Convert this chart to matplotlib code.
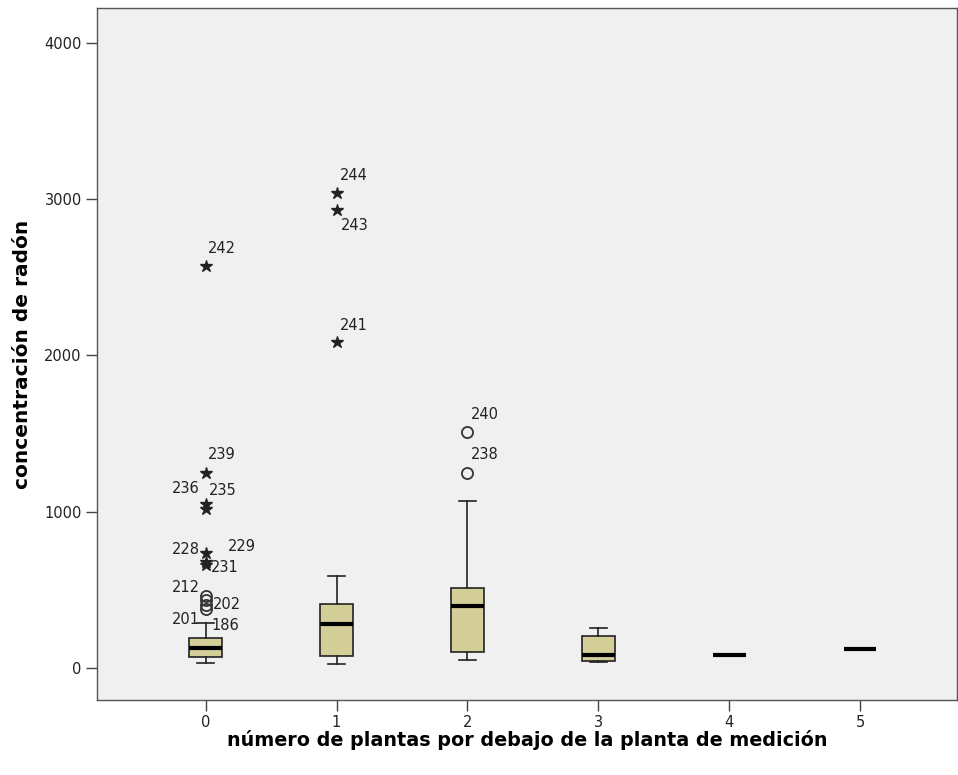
import matplotlib
matplotlib.use("Agg")
import matplotlib.pyplot as plt

plt.rcParams['font.family'] = ['DejaVu Sans']

# box statistics per group (numero de plantas por debajo)
groups = [0, 1, 2, 3, 4, 5]
q1 = [70, 77, 102, 45, 83, 122]
med = [128, 282, 397, 83, 83, 122]
q3 = [192, 410, 512, 205, 83, 122]
whislo = [32, 26, 51, 38, 83, 122]
whishi = [288, 589, 1069, 256, 83, 122]

# outliers: group, value, kind, case label
out_group = [0, 0, 0, 0, 0, 0, 0, 0, 0, 0, 0, 1, 1, 1, 2, 2]
out_value = [2573, 1248, 1050, 1020, 736, 680, 660, 460, 435, 400, 380, 3040, 2931, 2086, 1510, 1248]
out_kind = ['*', '*', '*', '*', '*', '*', '*', 'o', 'o', 'o', 'o', '*', '*', '*', 'o', 'o']
out_label = ['242', '239', '236', '235', '228', '229', '231', '212', '202', '201', '186',
             '244', '243', '241', '240', '238']
# label offsets in pixels (dx, dy, ha)
lab_off = [(2, 17, 'left'), (2, 18, 'left'), (-6, 15, 'right'), (3, 18, 'left'),
           (-6, 3, 'right'), (22, 15, 'left'), (5, -3, 'left'), (-6, 9, 'right'),
           (7, -4, 'left'), (-6, -14, 'right'), (6, -17, 'left'),
           (3, 17, 'left'), (4, -15, 'left'), (3, 17, 'left'), (3, 18, 'left'), (3, 18, 'left')]

fig = plt.figure(figsize=(9.58, 7.75), dpi=100)
ax = fig.add_axes([97/958, 75/775, 860/958, 692/775])
ax.set_facecolor('#f0f0f0')

stats = []
for i in range(len(groups)):
    stats.append(dict(q1=q1[i], med=med[i], q3=q3[i], whislo=whislo[i], whishi=whishi[i], fliers=[]))

ax.bxp(stats, positions=groups, widths=0.25, patch_artist=True, showfliers=False,
       boxprops=dict(facecolor='#d4cf98', edgecolor='#222222', linewidth=1.2),
       whiskerprops=dict(color='#222222', linewidth=1.2),
       capprops=dict(color='#222222', linewidth=1.2),
       medianprops=dict(color='black', linewidth=3),
       capwidths=0.13)

for g, v, k, lab, off in zip(out_group, out_value, out_kind, out_label, lab_off):
    if k == '*':
        ax.plot(g, v, marker='*', color='#222222', markersize=9, linestyle='none')
    else:
        ax.plot(g, v, marker='o', markerfacecolor='none', markeredgecolor='#333333',
                markersize=8, markeredgewidth=1.3, linestyle='none')
    ax.annotate(lab, (g, v), xytext=(off[0], off[1]), textcoords='offset pixels',
                ha=off[2], va='center', fontsize=10.5, color='#222222')

ax.set_xlim(-0.83, 5.74)
ax.set_ylim(-205, 4224)
ax.set_xticks(groups)
ax.set_xticklabels([str(g) for g in groups])
ax.set_yticks([0, 1000, 2000, 3000, 4000])
ax.tick_params(axis='both', direction='out', length=8, width=1, color='#444444',
               labelsize=10.5, labelcolor='#222222', pad=3)
for s in ax.spines.values():
    s.set_color('#555555')
    s.set_linewidth(1)

ax.set_ylabel('concentración de radón', fontsize=14.5, fontweight='bold', labelpad=9)
ax.set_xlabel('número de plantas por debajo de la planta de medición', fontsize=13.8,
              fontweight='bold', labelpad=0)

fig.savefig('out.png', dpi=100, facecolor='white')
